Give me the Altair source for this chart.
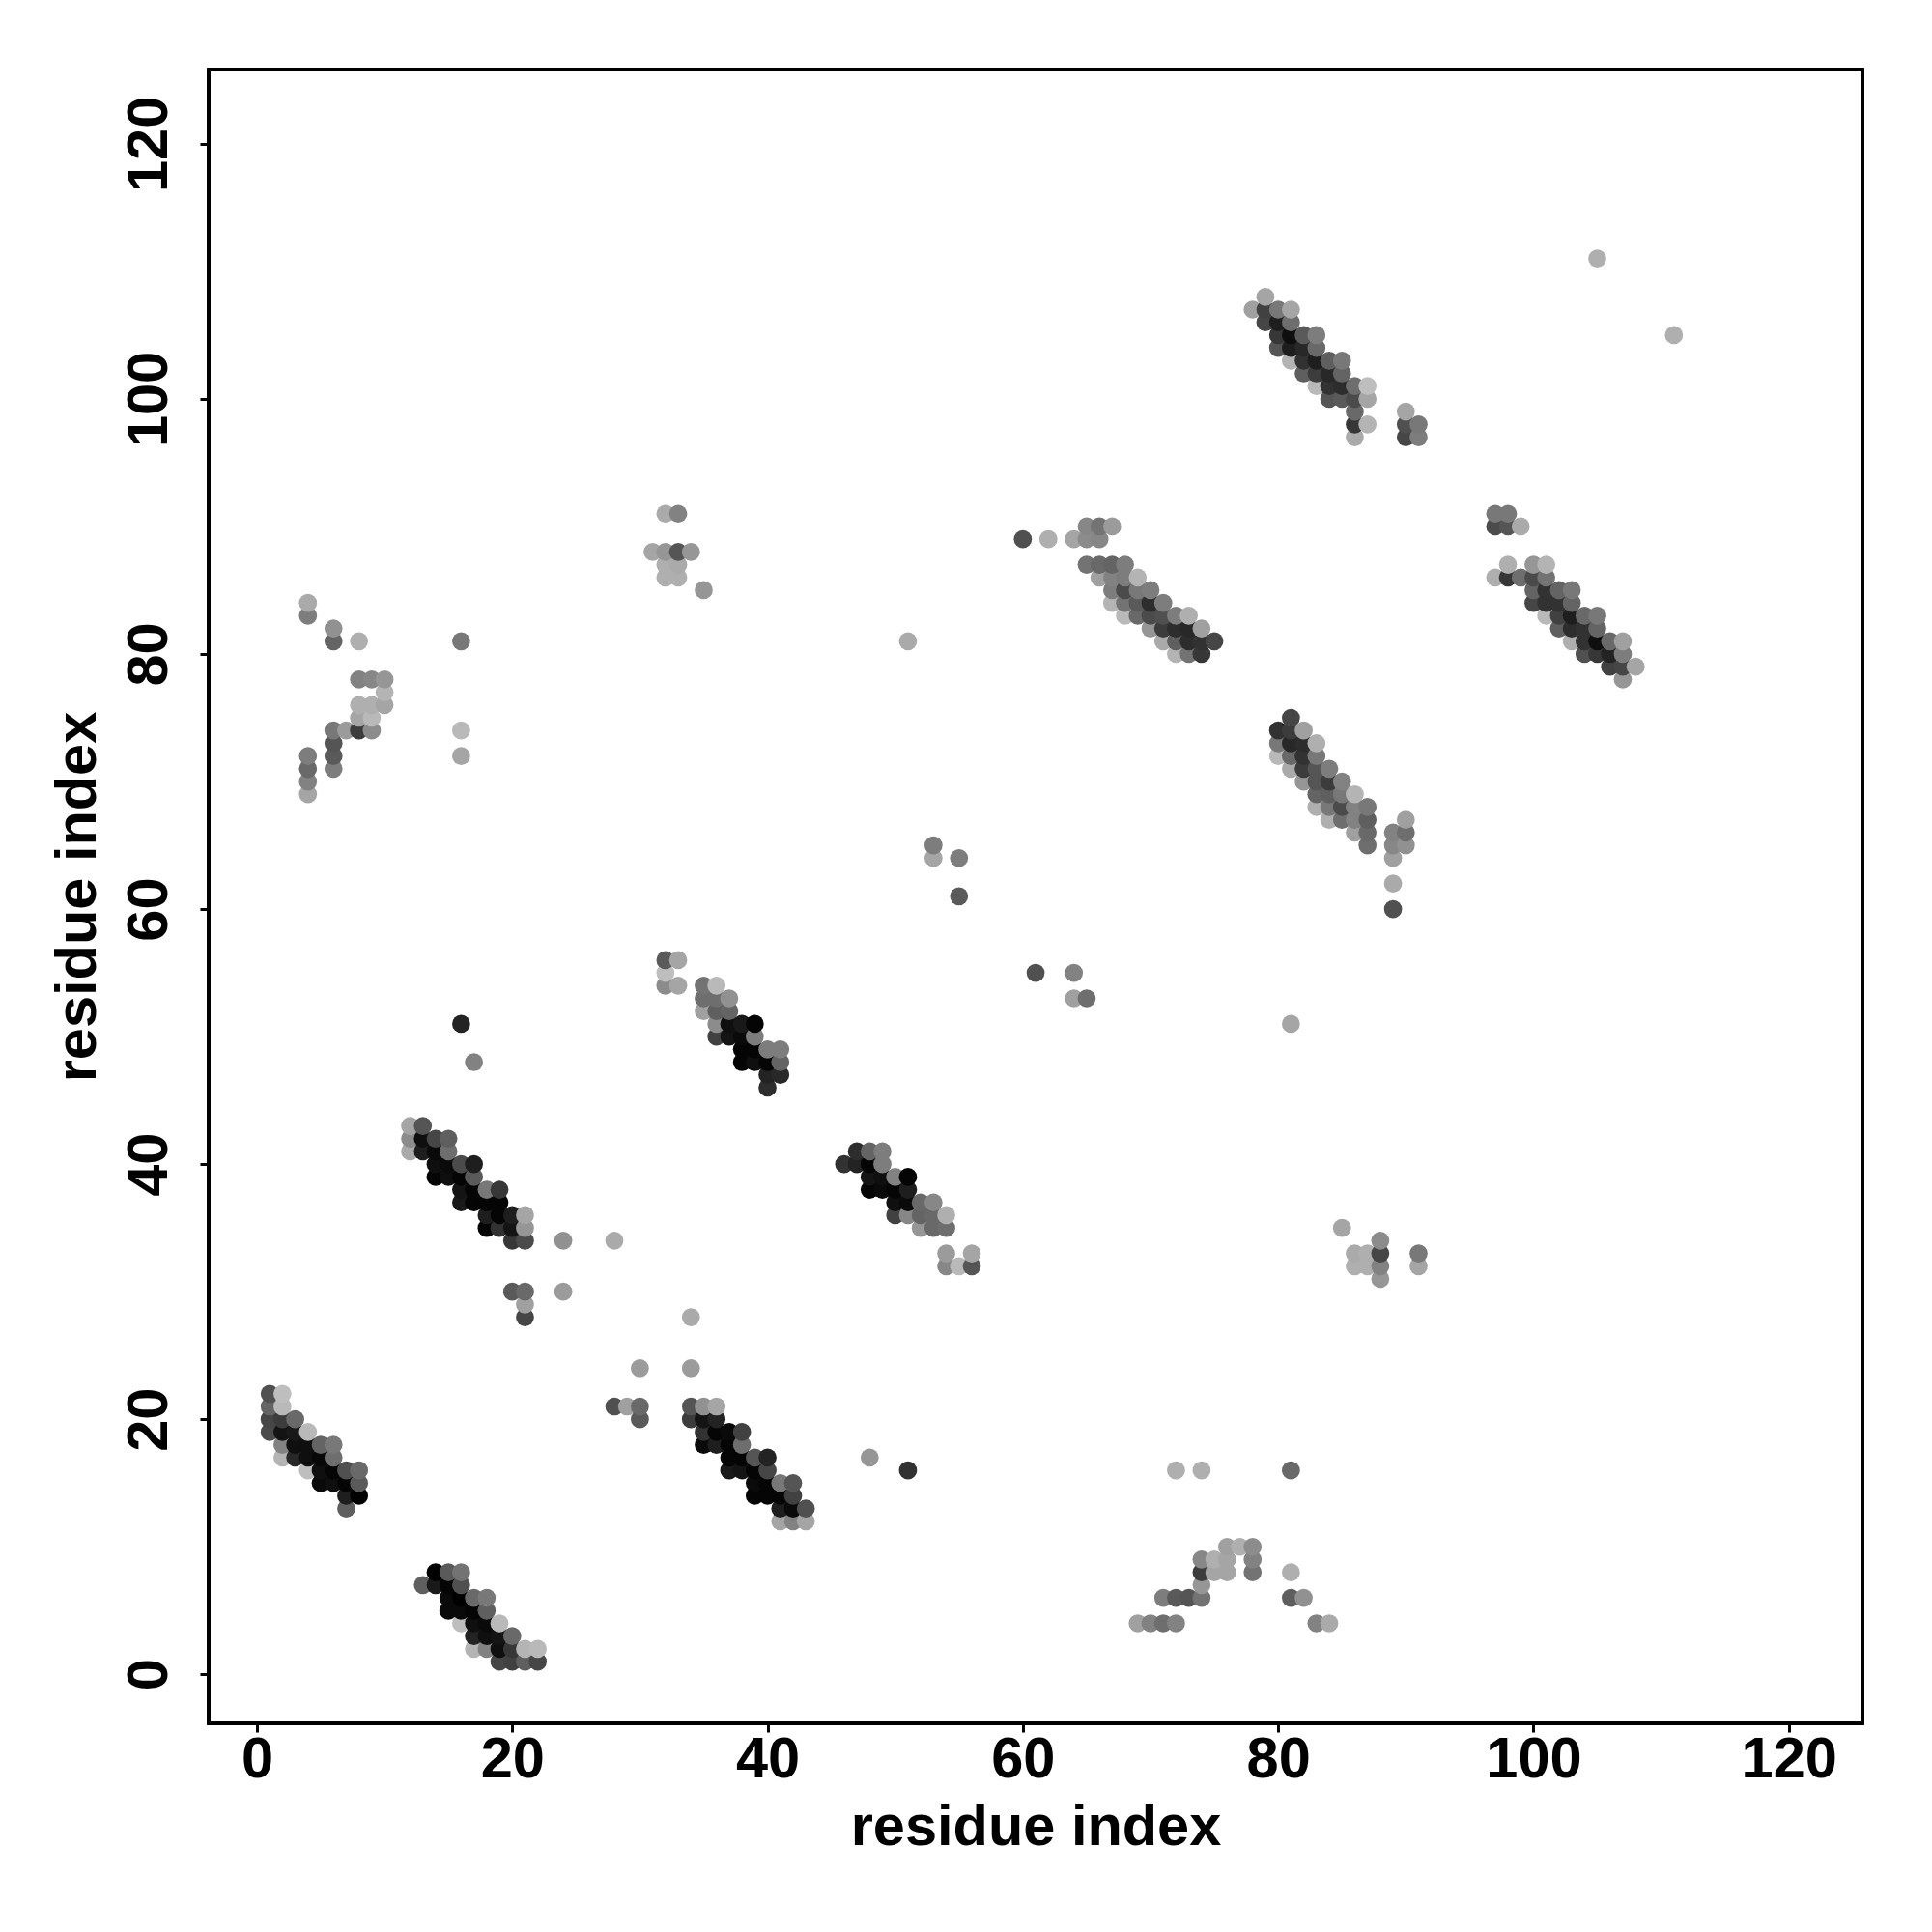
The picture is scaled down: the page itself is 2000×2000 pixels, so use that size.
import altair as alt
import pandas as pd

# Each contact is (residue index x, residue index y, grey level 0-255)
band_a = [(1,22,80),(2,22,190),(1,21,100),(2,21,185),(1,20,70),(2,20,60),(3,20,105),(1,19,75),(2,19,20),(3,19,25),(4,19,185),
          (2,18,130),(3,18,15),(4,18,15),(5,18,100),(6,18,120),(2,17,180),(3,17,40),(4,17,15),(5,17,8),(6,17,110),
          (4,16,190),(5,16,15),(6,16,5),(7,16,80),(8,16,105),(5,15,10),(6,15,15),(7,15,5),(8,15,90),(7,14,30),(8,14,0),(7,13,95)]
band_b = [(14,8,0),(15,8,90),(16,8,115),(13,7,95),(14,7,25),(15,7,5),(16,7,80),(15,6,10),(16,6,0),(17,6,105),(18,6,120),
          (15,5,10),(16,5,10),(17,5,5),(18,5,95),(16,4,190),(17,4,15),(18,4,10),(19,4,185),(17,3,35),(18,3,15),(19,3,20),(20,3,105),
          (17,2,180),(18,2,130),(19,2,15),(20,2,55),(21,2,180),(22,2,185),(19,1,70),(20,1,65),(21,1,95),(22,1,70)]
band_c = [(12,43,165),(13,43,85),(12,42,140),(13,42,15),(14,42,70),(15,42,95),(12,41,170),(13,41,30),(14,41,10),(15,41,110),
          (14,40,15),(15,40,10),(16,40,75),(17,40,30),(14,39,5),(15,39,15),(16,39,5),(17,39,90),(16,38,20),(17,38,5),(18,38,120),(19,38,55),
          (16,37,25),(17,37,5),(18,37,5),(19,37,5),(18,36,30),(19,36,5),(20,36,30),(21,36,165),(18,35,5),(19,35,50),(20,35,20),(21,35,150),
          (20,34,55),(21,34,75),(24,34,145),(28,34,170),(20,30,90),(21,30,105),(24,30,155),(21,29,160),(21,28,70)]
band_d = [(34,28,170),(30,24,155),(34,24,155),(28,21,80),(29,21,160),(30,21,105),(34,21,85),(35,21,145),(36,21,165),
          (30,20,90),(34,20,60),(35,20,20),(36,20,35),(35,19,50),(36,19,5),(37,19,10),(38,19,65),(35,18,10),(36,18,30),(37,18,5),(38,18,110),
          (37,17,5),(38,17,5),(39,17,85),(40,17,35),(37,16,25),(38,16,20),(39,16,5),(40,16,70),(39,15,10),(40,15,5),(41,15,120),(42,15,85),
          (39,14,5),(40,14,5),(41,14,5),(42,14,65),(41,13,30),(42,13,10),(43,13,80),(41,12,165),(42,12,130),(43,12,165)]
band_e = [(32,56,90),(33,56,165),(32,55,190),(32,54,140),(33,54,165),(35,54,115),(36,54,185),(35,53,110),(36,53,110),(37,53,145),
          (35,52,160),(36,52,95),(37,52,100),(36,51,140),(37,51,15),(38,51,25),(39,51,5),(36,50,65),(37,50,20),(38,50,10),(39,50,125),
          (38,49,5),(39,49,5),(40,49,125),(41,49,125),(38,48,5),(39,48,15),(40,48,5),(41,48,100),(40,47,35),(41,47,40),(40,46,45)]
band_f = [(47,41,45),(48,41,100),(49,41,125),(46,40,50),(47,40,35),(48,40,5),(49,40,125),(48,39,20),(49,39,15),(50,39,130),(51,39,5),
          (48,38,5),(49,38,10),(50,38,5),(51,38,30),(50,37,15),(51,37,10),(52,37,105),(53,37,135),(50,36,65),(51,36,135),(52,36,100),(53,36,105),(54,36,175),
          (52,35,150),(53,35,105),(54,35,110),(54,33,155),(56,33,165),(54,32,135),(55,32,185),(56,32,85)]
band_g = [(65,90,135),(66,90,115),(67,90,155),(60,89,80),(62,89,175),(64,89,165),(65,89,140),(66,89,135),
          (65,87,115),(66,87,105),(67,87,100),(68,87,125),(66,86,160),(67,86,130),(68,86,125),(69,86,180),
          (67,85,125),(68,85,75),(69,85,120),(70,85,125),(67,84,180),(68,84,115),(69,84,90),(70,84,45),(71,84,125),
          (68,83,185),(69,83,105),(70,83,75),(71,83,80),(72,83,125),(73,83,175),(70,82,150),(71,82,60),(72,82,45),(73,82,40),(74,82,160),
          (71,81,170),(72,81,95),(73,81,45),(74,81,50),(75,81,70),(72,80,180),(73,80,115),(74,80,55)]
band_h = [(79,108,165),(78,107,160),(79,107,65),(80,107,120),(81,107,165),(79,106,70),(80,106,30),(81,106,110),
          (80,105,55),(81,105,15),(82,105,90),(83,105,125),(80,104,85),(81,104,30),(82,104,40),(83,104,105),
          (81,103,180),(82,103,50),(83,103,30),(84,103,95),(85,103,120),(82,102,95),(83,102,60),(84,102,40),(85,102,100),
          (83,101,185),(84,101,50),(85,101,45),(86,101,110),(87,101,190),(84,100,85),(85,100,90),(86,100,75),(87,100,165),
          (86,99,105),(90,99,165),(86,98,55),(87,98,180),(90,98,80),(91,98,120),(86,97,170),(90,97,70),(91,97,125)]
band_i = [(81,75,70),(80,74,50),(81,74,60),(82,74,160),(80,73,120),(81,73,40),(82,73,45),(83,73,175),(80,72,185),(81,72,105),(82,72,50),(83,72,120),
          (81,71,170),(82,71,60),(83,71,85),(84,71,125),(82,70,150),(83,70,85),(84,70,60),(85,70,130),(83,69,100),(84,69,95),(85,69,120),(86,69,180),
          (83,68,175),(84,68,120),(85,68,75),(86,68,130),(87,68,120),(84,67,175),(85,67,110),(86,67,130),(87,67,95),(90,67,160),
          (86,66,160),(87,66,105),(89,66,130),(90,66,110),(87,65,110),(89,65,135),(90,65,145),(89,64,160),(89,62,170),(89,60,80)]
band_j = [(97,91,120),(98,91,120),(97,90,75),(98,90,85),(99,90,170),(98,87,175),(100,87,150),(101,87,180),
          (97,86,175),(98,86,55),(99,86,110),(100,86,75),(101,86,115),(100,85,100),(101,85,50),(102,85,100),(103,85,120),
          (100,84,70),(101,84,50),(102,84,50),(103,84,100),(101,83,185),(102,83,65),(103,83,30),(104,83,105),(105,83,120),
          (102,82,95),(103,82,45),(104,82,50),(105,82,100),(103,81,175),(104,81,50),(105,81,15),(106,81,105),(107,81,160),
          (104,80,80),(105,80,55),(106,80,35),(107,80,125),(106,79,65),(107,79,70),(108,79,165),(107,78,150)]
patch_left = [(4,84,170),(4,83,125),(6,82,145),(6,81,100),(8,81,175),(16,81,120),(8,78,130),(9,78,135),(10,78,150),(10,77,180),
              (8,76,175),(9,76,175),(10,76,165),(8,75,165),(9,75,185),(6,74,120),(7,74,155),(8,74,60),(9,74,140),(16,74,185),
              (6,73,85),(4,72,125),(6,72,90),(16,72,165),(4,71,105),(6,71,125),(4,70,130),(4,69,165)]
patch_top = [(32,91,170),(33,91,130),(31,88,165),(32,88,150),(33,88,85),(34,88,150),(32,87,175),(33,87,170),(32,86,175),(33,86,175),(35,85,150)]
patch_right = [(85,35,165),(88,34,140),(86,33,170),(87,33,175),(88,33,70),(91,33,120),(86,32,175),(87,32,175),(88,32,130),(91,32,165),(88,31,150)]
patch_low = [(76,10,160),(77,10,175),(78,10,140),(74,9,135),(75,9,175),(76,9,165),(78,9,130),(74,8,60),(75,8,165),(76,8,165),(78,8,115),(81,8,175),
             (74,7,150),(71,6,125),(72,6,90),(73,6,85),(74,6,115),(81,6,95),(82,6,145),(69,4,160),(70,4,130),(71,4,110),(72,4,130),(83,4,130),(84,4,170)]
singles = [(105,111,175),(111,105,175),(51,81,170),(53,65,125),(53,64,165),(55,64,125),(55,61,90),(61,55,80),(64,55,130),(64,53,160),(65,53,110),
           (16,51,35),(81,51,165),(17,48,130),(48,17,150),(51,16,50),(72,16,175),(74,16,175),(81,16,105)]

tick_values = [0, 20, 40, 60, 80, 100, 120]
x_domain = [-3.78, 125.77]
y_domain = [-3.84, 125.82]

rows = (band_a + band_b + band_c + band_d + band_e + band_f + band_g + band_h + band_i + band_j
        + patch_left + patch_top + patch_right + patch_low + singles)
df = pd.DataFrame(sorted(set(rows)), columns=["x", "y", "grey"])

FONT = "Liberation Sans"

def axis(**kw):
    return alt.Axis(values=tick_values, grid=False, domain=False, tickColor="black", tickWidth=3, tickSize=9,
                    labelFont=FONT, labelFontSize=59.5, labelFontWeight="bold", labelColor="black",
                    titleFont=FONT, titleFontSize=59.5, titleFontWeight="bold", titleColor="black",
                    labelOverlap=False, labelFlush=False, **kw)

chart = (
    alt.Chart(df)
    .mark_circle(opacity=1, size=350, strokeWidth=0)
    .encode(
        x=alt.X("x:Q", title="residue index", scale=alt.Scale(domain=x_domain, nice=False, zero=False),
                axis=axis(labelPadding=-1, titlePadding=12)),
        y=alt.Y("y:Q", title="residue index", scale=alt.Scale(domain=y_domain, nice=False, zero=False),
                axis=axis(labelAngle=270, labelPadding=23, titlePadding=14, labelAlign="center", labelBaseline="bottom")),
        color=alt.Color("grey:Q", scale=alt.Scale(domain=[0, 255], range=["#000000", "#ffffff"], interpolate="rgb"), legend=None),
    )
    .properties(width=1712, height=1712,
                background="white",
                autosize=alt.AutoSizeParams(type="none"),
                padding={"left": 208, "top": 64, "right": 64, "bottom": 208})
    .configure_view(stroke="black", strokeWidth=4, fill="white")
)

chart.save("out.html", embed_options={"renderer": "svg", "actions": False})
